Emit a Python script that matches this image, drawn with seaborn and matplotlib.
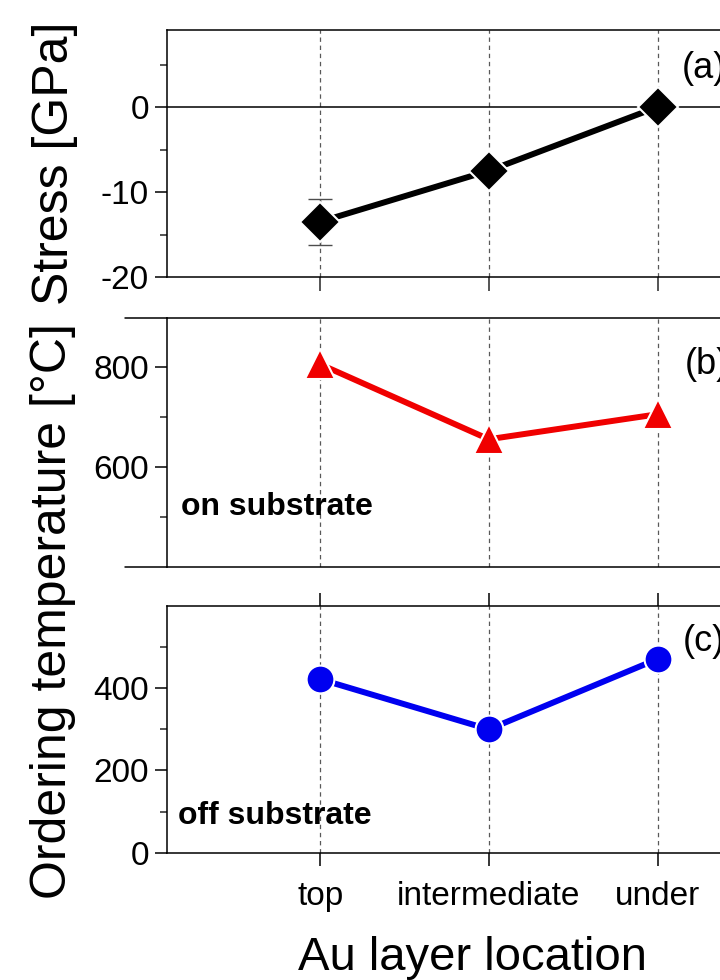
import numpy as np
import pandas as pd
import matplotlib
matplotlib.use('Agg')
import matplotlib.pyplot as plt
import seaborn as sns
from matplotlib.ticker import FixedLocator

# Data
locations = ['top', 'intermediate', 'under']
stress = [-13.5, -7.5, 0.0]          # GPa
stress_err = [2.7, 0.0, 0.0]
temp_on = [805, 655, 705]            # deg C, on substrate
temp_off = [422, 300, 471]           # deg C, off substrate

sns.set_theme(style='ticks')
plt.rcParams['font.family'] = ['Liberation Sans', 'DejaVu Sans']
plt.rcParams['axes.linewidth'] = 1.1
plt.rcParams['axes.edgecolor'] = 'black'
plt.rcParams['axes.unicode_minus'] = False
plt.rcParams['text.color'] = 'black'

fig = plt.figure(figsize=(7.2, 9.8), dpi=100)

left, width = 167 / 720, 644 / 720
ax_a = fig.add_axes([left, 1 - 277 / 980, width, 247 / 980])
ax_b = fig.add_axes([left, 1 - 566.7 / 980, width, 248.4 / 980])
ax_c = fig.add_axes([left, 1 - 852.7 / 980, width, 246.7 / 980])

tick_fs = 24
line_kw = dict(linewidth=4.3, markeredgecolor='white', markeredgewidth=1.5, sort=False)

# (a) stress
ax_a.errorbar(locations, stress, yerr=stress_err, fmt='none', ecolor='0.3',
              elinewidth=1.0, capsize=8.5, capthick=1.0, zorder=2)
sns.lineplot(x=locations, y=stress, ax=ax_a, color='black', marker='D',
             markersize=20, zorder=3, **line_kw)
ax_a.axhline(0, color='black', lw=1.1, zorder=1)
ax_a.set_ylim(-20, 9.06)
ax_a.yaxis.set_major_locator(FixedLocator([-20, -10, 0]))
ax_a.yaxis.set_minor_locator(FixedLocator([-15, -5, 5]))

# (b) ordering temperature on substrate
sns.lineplot(x=locations, y=temp_on, ax=ax_b, color='#f00000', marker='^',
             markersize=22, zorder=3, **line_kw)
ax_b.set_ylim(400, 897)
ax_b.yaxis.set_major_locator(FixedLocator([600, 800]))
ax_b.yaxis.set_minor_locator(FixedLocator([500, 700]))

# (c) ordering temperature off substrate
sns.lineplot(x=locations, y=temp_off, ax=ax_c, color='#0000f0', marker='o',
             markersize=20, zorder=3, **line_kw)
ax_c.set_ylim(0, 600)
ax_c.yaxis.set_major_locator(FixedLocator([0, 200, 400]))
ax_c.yaxis.set_minor_locator(FixedLocator([100, 300, 500]))

for ax in (ax_a, ax_b, ax_c):
    ax.set_xlim(-0.908, 2.91)
    ax.set_xlabel('')
    ax.set_ylabel('')
    ax.grid(axis='x', which='major', linestyle=(0, (3.5, 3)), color='0.35', lw=0.9)
    ax.set_axisbelow(True)
    for s in ax.spines.values():
        s.set_visible(True)
        s.set_linewidth(1.1)
        s.set_color('black')
    ax.tick_params(axis='y', which='major', direction='out', length=9, width=1.1,
                   labelsize=tick_fs, pad=4, colors='black')
    ax.tick_params(axis='y', which='minor', direction='out', length=5, width=1.1)
    ax.tick_params(axis='y', right=False)

ax_a.tick_params(axis='x', direction='out', length=10, width=1.1,
                 bottom=True, top=False, labelbottom=False)
ax_b.tick_params(axis='x', length=0, labelbottom=False)
ax_c.tick_params(axis='x', direction='out', length=9.5, width=1.1,
                 bottom=True, top=True, labelbottom=True, labelsize=tick_fs,
                 pad=11, colors='black')

# panel (b) frame lines run a bit further left
for yy in (0, 1):
    ax_b.plot([-0.065, 0], [yy, yy], transform=ax_b.transAxes, color='black',
              lw=1.1, clip_on=False)

# panel tags and notes
ax_a.text(0.80, 0.846, '(a)', transform=ax_a.transAxes, fontsize=26, va='center')
ax_b.text(0.804, 0.816, '(b)', transform=ax_b.transAxes, fontsize=26, va='center')
ax_c.text(0.801, 0.858, '(c)', transform=ax_c.transAxes, fontsize=26, va='center')
ax_b.text(0.022, 0.24, 'on substrate', transform=ax_b.transAxes, fontsize=23,
          fontweight='bold', va='center')
ax_c.text(0.017, 0.149, 'off substrate', transform=ax_c.transAxes, fontsize=23,
          fontweight='bold', va='center')

# axis titles
fig.text(55 / 720, 1 - 163 / 980, 'Stress [GPa]', rotation=90, fontsize=36,
         ha='center', va='center')
fig.text(53 / 720, 1 - 611 / 980, 'Ordering temperature [°C]', rotation=90,
         fontsize=36, ha='center', va='center')
fig.text(473 / 720, 1 - 958 / 980, 'Au layer location', fontsize=34,
         ha='center', va='center')

fig.savefig('out.png', dpi=100)
